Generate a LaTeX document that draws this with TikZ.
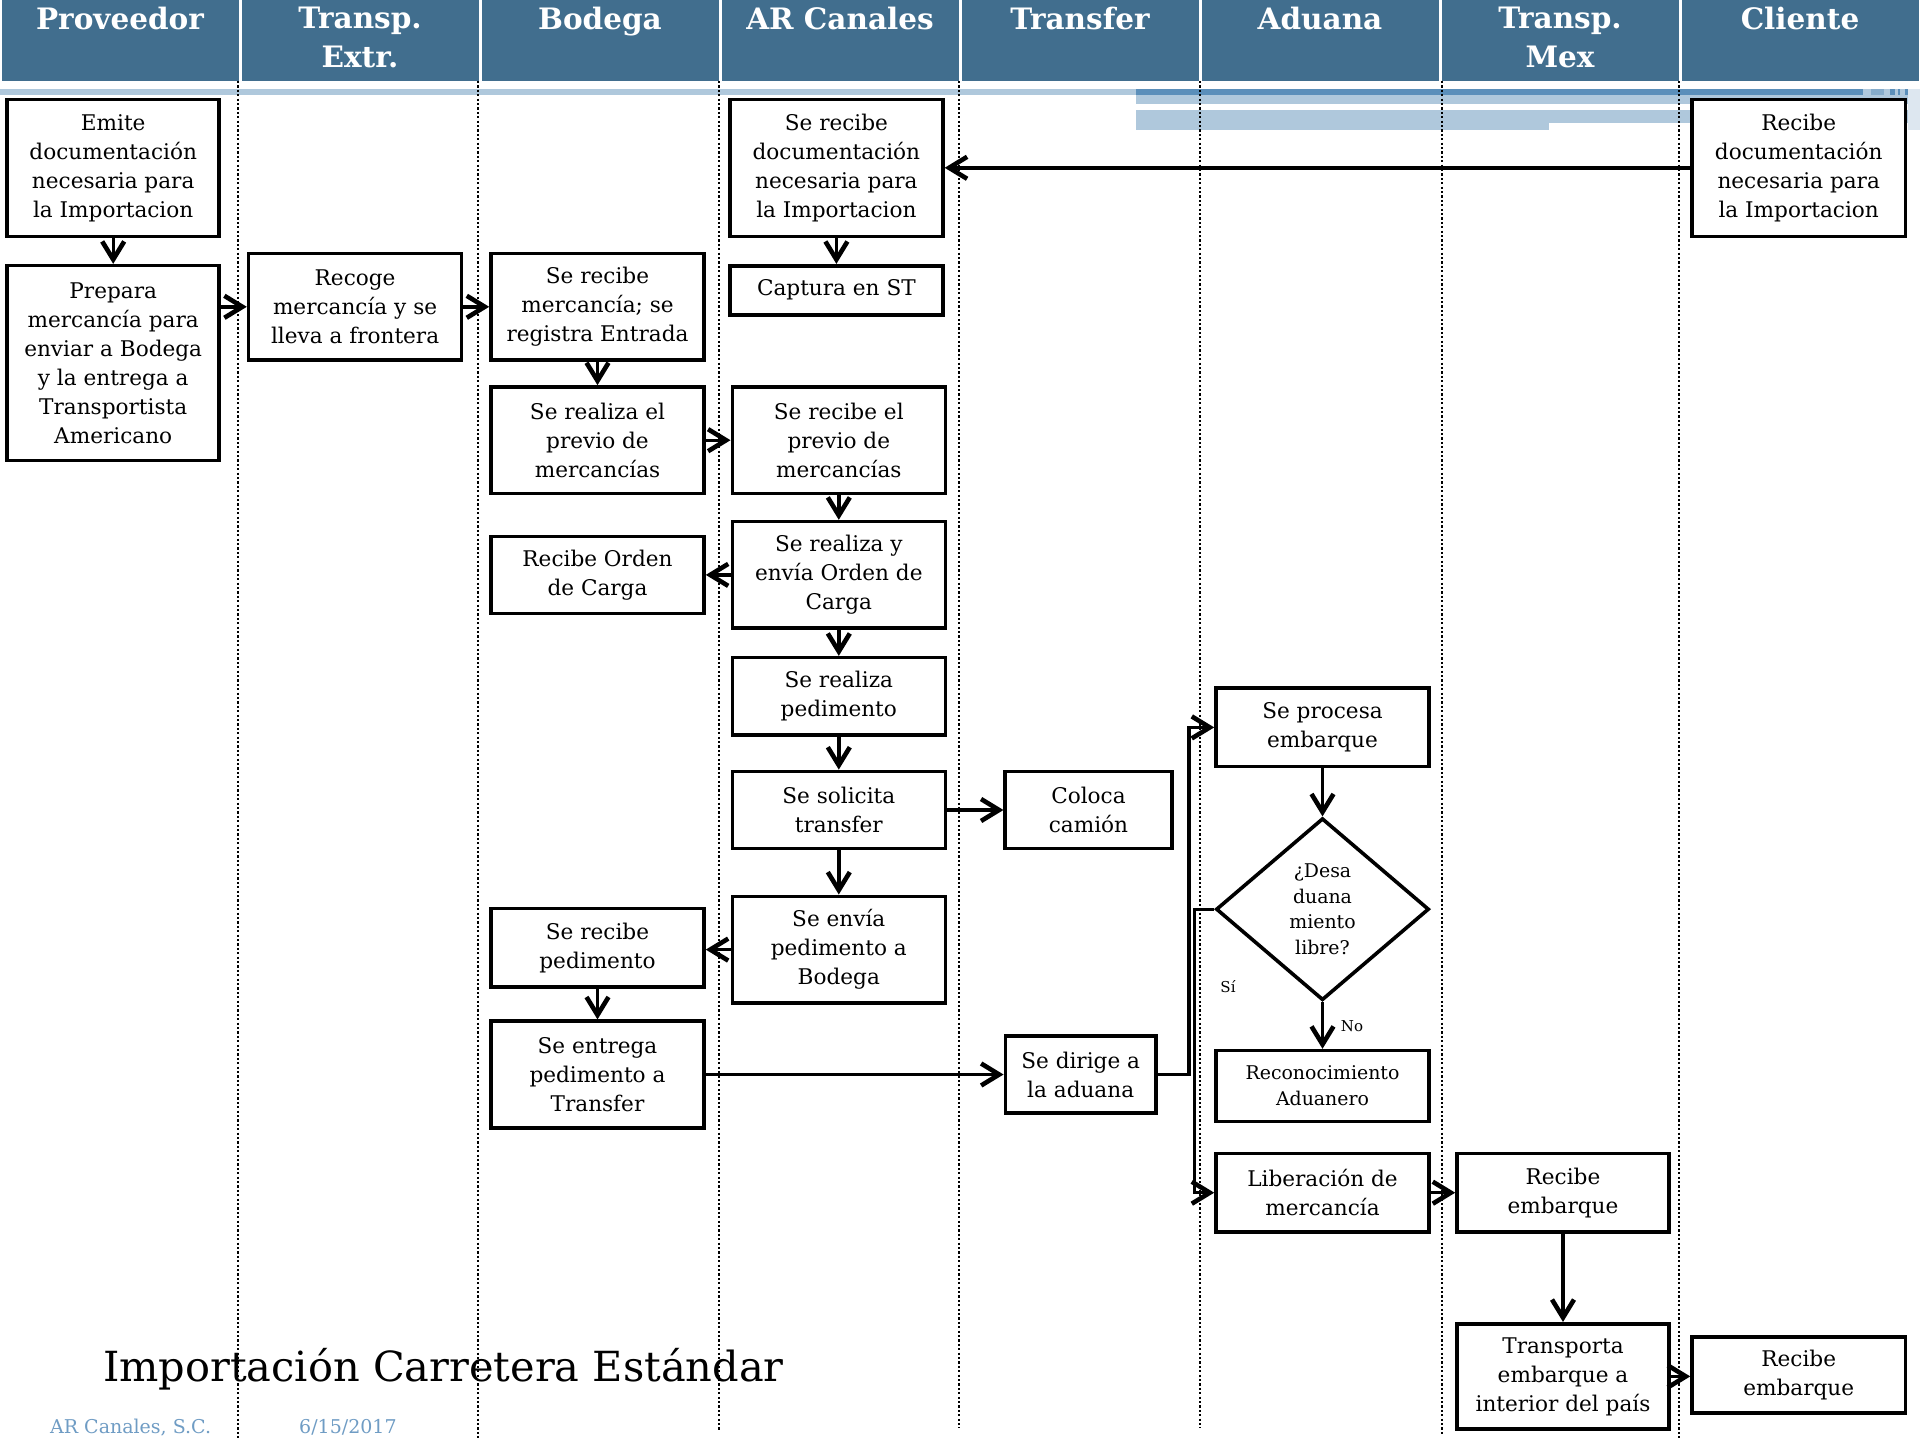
\documentclass[tikz,border=0pt]{standalone}
\usepackage{fontspec}
\setmainfont{DejaVu Serif}
\usetikzlibrary{arrows.meta,shapes.geometric}
\definecolor{hdr}{HTML}{416E8E}
\definecolor{stripeL}{HTML}{AFC8DC}
\definecolor{stripeD}{HTML}{5B8FBA}
\definecolor{stripeM}{HTML}{86ACCB}
\definecolor{stripeVL}{HTML}{DDE7F0}
\definecolor{foot}{HTML}{6F9CC4}
\begin{document}
\begin{tikzpicture}[x=1pt,y=-1pt,
  box/.style={draw, line width=3.6pt, fill=white, inner sep=0pt, align=center, font=\fontsize{21.6}{29}\selectfont},
  smallbox/.style={box, font=\fontsize{18.9}{26}\selectfont},
  arr/.style={line width=3.4pt, -{Straight Barb[length=18pt,width=22pt,line width=4.6pt]}},
  lane/.style={line width=2pt, dash pattern=on 2.2pt off 2.2pt},
  hdrtext/.style={text=white, anchor=north, inner sep=0pt, align=center, font=\fontsize{29.5}{38.5}\selectfont\bfseries},
  lbl/.style={inner sep=0pt, font=\fontsize{15}{18}\selectfont}]

\fill[white] (0,0) rectangle (1920,1440);
\useasboundingbox (0,0) rectangle (1920,1440);

% header bars
\foreach \i in {0,...,7} \fill[hdr] ({240*\i+1.5},0) rectangle ({240*\i+238.5},81);
\node[hdrtext] (h1) at (120,7) {Proveedor};
\node[hdrtext] (h2) at (360,7) {Transp.\\Extr.};
\node[hdrtext] (h3) at (600,7) {Bodega};
\node[hdrtext] (h4) at (840,7) {AR Canales};
\node[hdrtext] (h5) at (1080,7) {Transfer};
\node[hdrtext] (h6) at (1320,7) {Aduana};
\node[hdrtext] (h7) at (1560,7) {Transp.\\Mex};
\node[hdrtext] (h8) at (1800,7) {Cliente};

% decorative stripes
\fill[stripeL] (0,89) rectangle (1920,95);
\fill[stripeD] (1136,89) rectangle (1863,95);
\fill[stripeM] (1871,89) rectangle (1884,95);
\fill[stripeD] (1890,89) rectangle (1895,95);
\fill[stripeD] (1898,89) rectangle (1900,95);
\fill[stripeD] (1905,89) rectangle (1908,95);
\fill[stripeL] (1136,95) rectangle (1920,104);
\fill[stripeL] (1136,110) rectangle (1920,123);
\fill[stripeL] (1136,123) rectangle (1549,130);
\fill[stripeVL] (1908,89) rectangle (1920,130);

% lane separators
\foreach \x/\e in {238/1440, 478/1440, 718.5/1431, 959/1428, 1200/1428, 1442/1436, 1679/1440}
  \draw[lane] (\x,81) -- (\x,\e);

% boxes
\node[box, minimum width=212pt, minimum height=137pt] (emite) at (113.2,167.8) {Emite\\documentación\\necesaria para\\la Importacion};
\node[box, minimum width=212pt, minimum height=194.7pt] (prepara) at (113.2,363) {Prepara\\mercancía para\\enviar a Bodega\\y la entrega a\\Transportista\\Americano};
\node[box, minimum width=213pt, minimum height=106.5pt] (recoge) at (355.1,306.8) {Recoge\\mercancía y se\\lleva a frontera};
\node[box, minimum width=213pt, minimum height=106.5pt] (recmerc) at (597.5,306.8) {Se recibe\\mercancía; se\\registra Entrada};
\node[box, minimum width=213pt, minimum height=106.5pt] (previo) at (597.5,440.2) {Se realiza el\\previo de\\mercancías};
\node[box, minimum width=213pt, minimum height=77.2pt] (recorden) at (597.5,574.9) {Recibe Orden\\de Carga};
\node[box, minimum width=213pt, minimum height=78.4pt] (recped) at (597.5,947.8) {Se recibe\\pedimento};
\node[box, minimum width=213pt, minimum height=106.6pt] (entrega) at (597.5,1074.5) {Se entrega\\pedimento a\\Transfer};

\node[box, minimum width=213pt, minimum height=137pt] (ardoc) at (836.4,167.8) {Se recibe\\documentación\\necesaria para\\la Importacion};
\node[box, minimum width=213pt, minimum height=49pt] (captura) at (836.4,290.2) {Captura en ST};
\node[box, minimum width=213pt, minimum height=106.5pt] (arprevio) at (838.8,440.2) {Se recibe el\\previo de\\mercancías};
\node[box, minimum width=213pt, minimum height=106.6pt] (arorden) at (838.8,574.9) {Se realiza y\\envía Orden de\\Carga};
\node[box, minimum width=213pt, minimum height=77.1pt] (arped) at (838.8,696.2) {Se realiza\\pedimento};
\node[box, minimum width=213pt, minimum height=77.2pt] (solicita) at (838.8,810) {Se solicita\\transfer};
\node[box, minimum width=213pt, minimum height=106.6pt] (envia) at (838.8,949.6) {Se envía\\pedimento a\\Bodega};

\node[box, minimum width=166.5pt, minimum height=77.2pt] (coloca) at (1088.5,810) {Coloca\\camión};
\node[box, minimum width=150.7pt, minimum height=77pt] (dirige) at (1080.7,1074.5) {Se dirige a\\la aduana};

\node[box, minimum width=213pt, minimum height=78.3pt] (procesa) at (1322.5,727.4) {Se procesa\\embarque};
\node[draw, diamond, line width=3.6pt, fill=white, minimum width=213pt, minimum height=182pt, inner sep=0pt, align=center, font=\fontsize{18.9}{25.7}\selectfont] (dia) at (1322.5,909.2) {¿Desa\\duana\\miento\\libre?};
\node[smallbox, minimum width=213pt, minimum height=71pt] (reco) at (1322.5,1086.1) {Reconocimiento\\Aduanero};
\node[box, minimum width=213pt, minimum height=78.3pt] (lib) at (1322.5,1192.7) {Liberación de\\mercancía};

\node[box, minimum width=212pt, minimum height=78.3pt] (recemb) at (1563,1192.7) {Recibe\\embarque};
\node[box, minimum width=212pt, minimum height=105.3pt] (transp) at (1563,1376.4) {Transporta\\embarque a\\interior del país};

\node[box, minimum width=213.3pt, minimum height=137pt] (clidoc) at (1798.7,167.8) {Recibe\\documentación\\necesaria para\\la Importacion};
\node[box, minimum width=213.3pt, minimum height=76pt] (cliemb) at (1798.7,1375) {Recibe\\embarque};

% labels
\node[lbl] (si) at (1228,987) {Sí};
\node[lbl] (no) at (1352,1026) {No};

% title and footer
\node[anchor=base west, inner sep=0pt, font=\fontsize{41.5}{50}\selectfont] (title) at (103,1381) {Importación Carretera Estándar};
\node[anchor=base west, inner sep=0pt, text=foot, font=\fontsize{19}{22}\selectfont] (company) at (50,1433) {AR Canales, S.C.};
\node[anchor=base west, inner sep=0pt, text=foot, font=\fontsize{19}{22}\selectfont] (date) at (299,1433) {6/15/2017};

% connectors
\draw[arr] (emite) -- (prepara);
\draw[arr] (prepara.east |- recoge.west) -- (recoge.west);
\draw[arr] (recoge) -- (recmerc);
\draw[arr] (recmerc) -- (previo);
\draw[arr] (previo) -- (arprevio);
\draw[arr] (arprevio) -- (arorden);
\draw[arr] (arorden) -- (recorden);
\draw[arr] (arorden) -- (arped);
\draw[arr] (arped) -- (solicita);
\draw[arr] (solicita) -- (coloca);
\draw[arr] (solicita) -- (envia);
\draw[arr] (envia.west) -- (envia.west -| recped.east);
\draw[arr] (recped) -- (entrega);
\draw[arr] (entrega) -- (dirige);
\draw[arr] (dirige.east) -- ++(31,0) |- (procesa.west);
\draw[arr] (procesa) -- (dia);
\draw[arr] (dia) -- (reco);
\draw[arr] (dia.west) -- ++(-20,0) |- (lib.west);
\draw[arr] (lib) -- (recemb);
\draw[arr] (recemb) -- (transp);
\draw[arr] (transp.east) -- (transp.east -| cliemb.west);
\draw[arr] (clidoc) -- (ardoc);
\draw[arr] (ardoc) -- (captura);
\end{tikzpicture}
\end{document}
